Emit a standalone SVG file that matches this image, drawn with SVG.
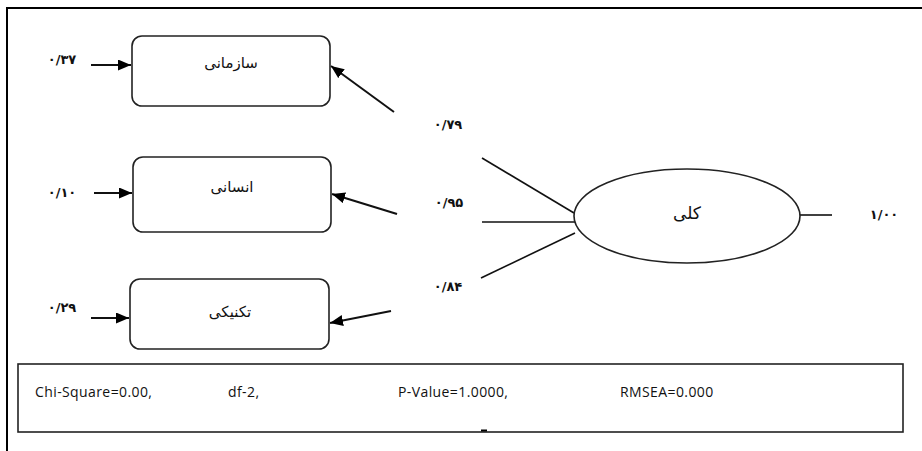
<svg xmlns="http://www.w3.org/2000/svg" width="922" height="451" viewBox="0 0 922 451">
<defs>
<marker id="ah" viewBox="0 0 13 11" refX="13" refY="5.5" markerWidth="13" markerHeight="11" markerUnits="userSpaceOnUse" orient="auto">
<path d="M0,0 L13,5.5 L0,11 z" fill="#000"/>
</marker>
<style>
.box{fill:#fff;stroke:#222;stroke-width:1.6}
.ln{stroke:#111;stroke-width:1.6;fill:none}
.arr{stroke:#111;stroke-width:2;fill:none;marker-end:url(#ah)}
.fa{font-family:"DejaVu Sans","Noto Sans",sans-serif;font-size:15px;fill:#111;text-anchor:middle}
.num{font-family:"DejaVu Sans","Noto Sans",sans-serif;font-size:13px;font-weight:bold;fill:#111;text-anchor:middle}
.st{font-family:"Open Sans","Liberation Sans",sans-serif;font-size:14px;letter-spacing:0.4px;fill:#111}
</style>
</defs>
<rect width="922" height="451" fill="#fff"/>
<path d="M7,451 V8 H922" fill="none" stroke="#000" stroke-width="2"/>
<g id="connectors">
<line class="arr" x1="91" y1="65" x2="131" y2="65"/>
<line class="arr" x1="94" y1="193" x2="132" y2="193"/>
<line class="arr" x1="91" y1="318" x2="129" y2="318"/>
<line class="arr" x1="394" y1="112" x2="331" y2="66"/>
<line class="arr" x1="397" y1="214" x2="332" y2="194"/>
<line class="arr" x1="391" y1="311" x2="330" y2="323"/>
<line class="ln" x1="482" y1="158" x2="574" y2="213"/>
<line class="ln" x1="482" y1="222" x2="575" y2="222"/>
<line class="ln" x1="481" y1="278" x2="575" y2="233"/>
<line class="ln" x1="800" y1="215" x2="832" y2="215"/>
</g>
<g id="n-sazmani">
<rect class="box" x="132" y="36" width="198" height="70" rx="10"/>
<text class="fa" x="231" y="68">سازمانی</text>
</g>
<g id="n-ensani">
<rect class="box" x="133" y="157" width="198" height="75" rx="10"/>
<text class="fa" x="232" y="192">انسانی</text>
</g>
<g id="n-technical">
<rect class="box" x="130" y="279" width="199" height="70" rx="10"/>
<text class="fa" x="230" y="317">تکنیکی</text>
</g>
<g id="n-koli">
<ellipse class="box" cx="687" cy="216" rx="113" ry="47"/>
<text class="fa" x="687" y="219" style="font-size:17px">کلی</text>
</g>
<g id="labels">
<text class="num" x="62" y="64">۰/۳۷</text>
<text class="num" x="62" y="197">۰/۱۰</text>
<text class="num" x="62" y="312">۰/۲۹</text>
<text class="num" x="448" y="129">۰/۷۹</text>
<text class="num" x="449" y="207">۰/۹۵</text>
<text class="num" x="448" y="291">۰/۸۴</text>
<text class="num" x="884" y="219">۱/۰۰</text>
</g>
<g id="stats">
<rect x="18" y="364" width="885" height="68" fill="#fff" stroke="#222" stroke-width="1.6"/>
<text class="st" x="35" y="397">Chi-Square=0.00,</text>
<text class="st" x="228" y="397">df-2,</text>
<text class="st" x="398" y="397">P-Value=1.0000,</text>
<text class="st" x="620" y="397">RMSEA=0.000</text>
<line x1="481" y1="430.5" x2="487" y2="430.5" stroke="#000" stroke-width="2"/>
</g>
</svg>
